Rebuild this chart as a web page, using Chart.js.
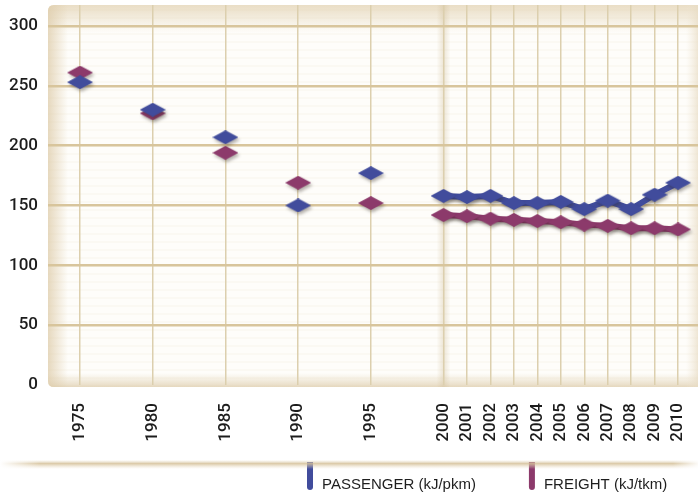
<!DOCTYPE html>
<html>
<head>
<meta charset="utf-8">
<script src="https://cdn.jsdelivr.net/npm/chart.js@4/dist/chart.umd.min.js"></script>
<style>
html, body { margin: 0; padding: 0; background: #fff; }
</style>
</head>
<body>
<canvas id="chart" width="698" height="497"></canvas>
<script>
// energy intensity
const years = [1975, 1980, 1985, 1990, 1995, 2000, 2001, 2002, 2003, 2004, 2005, 2006, 2007, 2008, 2009, 2010];
const tickLabels = years.map(String);
const passenger = [253, 230, 207, 150, 177, 158, 157, 158, 152, 152, 153, 147, 154, 147, 159, 169];
const freight = [261, 227, 194, 169, 152, 142, 141, 139, 138, 137, 136, 134, 133, 131, 131, 130];
const seriesNames = ['PASSENGER (kJ/pkm)', 'FREIGHT (kJ/tkm)'];
const seriesColors = ['#414c9c', '#8c3a6b'];

// five-year steps are drawn about 3.1 yearly steps wide
const slots = [];
years.forEach(function(y, i) {
	slots.push(i === 0 ? 0 : slots[i - 1] + (y - years[i - 1] === 5 ? 3.1 : 1));
});

function diamond(color) {
	const c = document.createElement('canvas');
	c.width = 26; c.height = 14;
	const g = c.getContext('2d');
	g.fillStyle = color;
	g.beginPath();
	g.moveTo(0, 7); g.lineTo(13, 0); g.lineTo(26, 7); g.lineTo(13, 14);
	g.closePath();
	g.fill();
	return c;
}

function makeSet(label, values, color) {
	return {
		label: label,
		data: values.map(function(v, i) { return { x: slots[i], y: v }; }),
		borderColor: color,
		backgroundColor: color,
		borderWidth: 6,
		borderJoinStyle: 'round',
		pointStyle: diamond(color),
		pointRadius: 7,
		pointBorderWidth: 0,
		tension: 0,
		segment: {
			// single readings before 2000 stand alone
			borderColor: function(c) { return years[c.p0DataIndex] < 2000 ? 'rgba(0,0,0,0)' : undefined; }
		}
	};
}

const paper = {
	id: 'paper',
	beforeDraw: function(chart) {
		const ctx = chart.ctx, a = chart.chartArea;
		const L = a.left, T = a.top, R = a.right, B = a.bottom + 2;
		ctx.save();
		ctx.fillStyle = '#fff';
		ctx.fillRect(0, 0, chart.width, chart.height);

		ctx.beginPath();
		ctx.moveTo(L + 6, T); ctx.lineTo(R, T); ctx.lineTo(R, B); ctx.lineTo(L + 6, B);
		ctx.quadraticCurveTo(L, B, L, B - 6); ctx.lineTo(L, T + 6); ctx.quadraticCurveTo(L, T, L + 6, T);
		ctx.closePath();
		ctx.fillStyle = '#fefdfa';
		ctx.fill();
		ctx.clip();

		ctx.fillStyle = 'rgba(222,205,170,0.08)';
		for (let y = T + 4; y < B; y += 8) ctx.fillRect(L, y, R - L, 2);

		let g = ctx.createLinearGradient(0, T, 0, T + 28);
		g.addColorStop(0, 'rgba(225,208,175,0.7)'); g.addColorStop(1, 'rgba(225,208,175,0)');
		ctx.fillStyle = g; ctx.fillRect(L, T, R - L, 28);

		g = ctx.createLinearGradient(L, 0, L + 20, 0);
		g.addColorStop(0, 'rgba(222,204,170,0.75)'); g.addColorStop(1, 'rgba(222,204,170,0)');
		ctx.fillStyle = g; ctx.fillRect(L, T, 20, B - T);

		g = ctx.createLinearGradient(0, B - 14, 0, B);
		g.addColorStop(0, 'rgba(225,210,180,0)'); g.addColorStop(1, 'rgba(220,202,168,0.7)');
		ctx.fillStyle = g; ctx.fillRect(L, B - 14, R - L, 14);

		g = ctx.createLinearGradient(R - 12, 0, R, 0);
		g.addColorStop(0, 'rgba(238,228,208,0)'); g.addColorStop(1, 'rgba(232,220,196,0.7)');
		ctx.fillStyle = g; ctx.fillRect(R - 12, T, 12, B - T);

		// soft fold at the start of the yearly panel
		const xf = chart.scales.x.getPixelForValue(slots[years.indexOf(2000)]);
		g = ctx.createLinearGradient(xf - 7, 0, xf + 7, 0);
		g.addColorStop(0, 'rgba(205,185,145,0)'); g.addColorStop(0.5, 'rgba(205,185,145,0.35)'); g.addColorStop(1, 'rgba(205,185,145,0)');
		ctx.fillStyle = g; ctx.fillRect(xf - 7, T, 14, B - T);
		ctx.restore();
	}
};

const shadow = {
	id: 'shadow',
	beforeDatasetsDraw: function(chart) {
		const ctx = chart.ctx;
		ctx.save();
		ctx.shadowColor = 'rgba(50,40,30,0.35)';
		ctx.shadowBlur = 3;
		ctx.shadowOffsetX = 1.5;
		ctx.shadowOffsetY = 2.5;
	},
	afterDatasetsDraw: function(chart) { chart.ctx.restore(); }
};

const keyBox = {
	id: 'keyBox',
	afterDraw: function(chart) {
		const ctx = chart.ctx;
		const bandY = 464;
		ctx.save();
		let x = 307;
		ctx.font = '15px "Liberation Sans", Arial, sans-serif';
		ctx.textBaseline = 'alphabetic';
		chart.data.datasets.forEach(function(ds, i) {
			ctx.fillStyle = seriesColors[i];
			ctx.beginPath();
			ctx.moveTo(x, bandY - 2); ctx.lineTo(x + 6, bandY - 2); ctx.lineTo(x + 6, 487);
			ctx.quadraticCurveTo(x + 6, 490, x + 3, 490); ctx.quadraticCurveTo(x, 490, x, 487);
			ctx.closePath(); ctx.fill();
			ctx.fillStyle = '#1e1e1e';
			ctx.fillText(ds.label, x + 15, 489);
			x += 15 + ctx.measureText(ds.label).width + 53;
		});
		let g = ctx.createLinearGradient(0, bandY - 4, 0, bandY + 5);
		g.addColorStop(0, 'rgba(225,210,180,0)');
		g.addColorStop(0.4, 'rgba(212,192,152,0.85)');
		g.addColorStop(1, 'rgba(235,222,198,0)');
		ctx.fillStyle = g; ctx.fillRect(0, bandY - 4, chart.width, 9);
		g = ctx.createLinearGradient(0, 0, 40, 0);
		g.addColorStop(0, 'rgba(255,255,255,1)'); g.addColorStop(1, 'rgba(255,255,255,0)');
		ctx.fillStyle = g; ctx.fillRect(0, bandY - 4, 40, 9);
		g = ctx.createLinearGradient(chart.width - 25, 0, chart.width, 0);
		g.addColorStop(0, 'rgba(255,255,255,0)'); g.addColorStop(1, 'rgba(255,255,255,0.9)');
		ctx.fillStyle = g; ctx.fillRect(chart.width - 25, bandY - 4, 25, 9);
		ctx.restore();
	}
};

const tickFont = { family: 'Roboto, "Liberation Sans", sans-serif', size: 17, weight: '500' };

new Chart(document.getElementById('chart'), {
	type: 'line',
	data: {
		datasets: [
			makeSet(seriesNames[0], passenger, seriesColors[0]),
			makeSet(seriesNames[1], freight, seriesColors[1])
		]
	},
	options: {
		responsive: false,
		animation: false,
		events: [],
		layout: { autoPadding: false, padding: { top: 5, bottom: 47, left: 0, right: 0 } },
		plugins: { legend: { display: false }, tooltip: { enabled: false } },
		scales: {
			x: {
				type: 'linear',
				min: -1.365,
				max: 26.35,
				afterBuildTicks: function(s) { s.ticks = slots.map(function(v) { return { value: v }; }); },
				afterFit: function(s) { s.height = 65; s.paddingLeft = 0; s.paddingRight = 0; },
				ticks: {
					autoSkip: false, minRotation: 90, maxRotation: 90, padding: 18,
					font: tickFont, color: '#1c1c1c',
					callback: function(v, i) { return tickLabels[i]; }
				},
				grid: { color: '#dccfae', lineWidth: 1.5, drawTicks: false },
				border: { display: false }
			},
			y: {
				min: 0,
				max: 317.5,
				afterFit: function(s) { s.width = 48; s.paddingTop = 0; s.paddingBottom = 0; },
				ticks: { stepSize: 50, includeBounds: false, padding: 10, font: tickFont, color: '#1c1c1c' },
				grid: {
					color: function(c) { return c.tick && c.tick.value === 0 ? 'rgba(0,0,0,0)' : '#d8c59c'; },
					lineWidth: 2.5, drawTicks: false
				},
				border: { display: false }
			}
		}
	},
	plugins: [paper, shadow, keyBox]
});
</script>
</body>
</html>
